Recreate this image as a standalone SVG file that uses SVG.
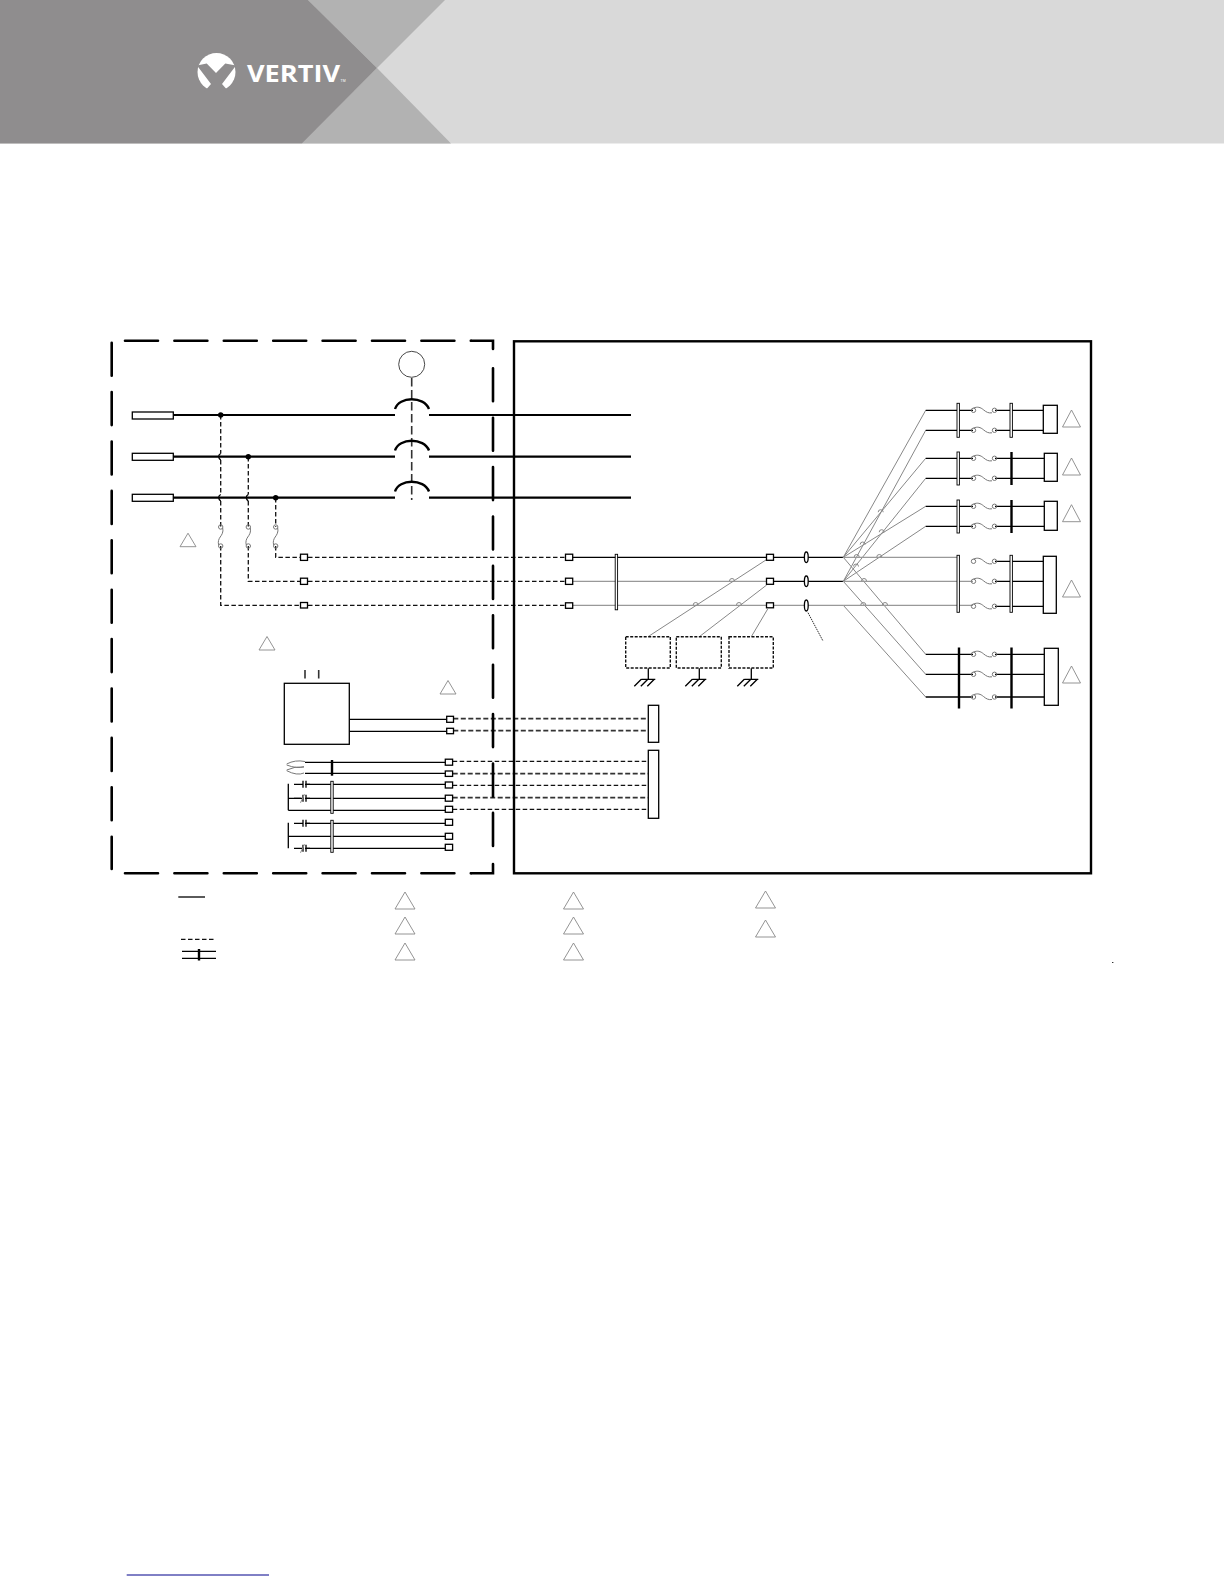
<svg xmlns="http://www.w3.org/2000/svg" width="1224" height="1584" viewBox="0 0 1224 1584">
<style>
.bg{fill:#fff}
.main{fill:none;stroke:#000;stroke-width:2.2}
.sol{fill:none;stroke:#000;stroke-width:1.3}
.gr{fill:none;stroke:#999;stroke-width:1.2}
.dg{fill:none;stroke:#888;stroke-width:1}
.ds{fill:none;stroke:#111;stroke-width:1.3;stroke-dasharray:4.5 2.5}
.dst{fill:none;stroke:#333;stroke-width:1.8;stroke-dasharray:5 2.5}
.dl{fill:none;stroke:#333;stroke-width:1.6;stroke-dasharray:8.5 3.5}
.bd{fill:none;stroke:#000;stroke-width:2.6;stroke-dasharray:33 16.4;stroke-linecap:round}
.box{fill:#fff;stroke:#000;stroke-width:1.3}
.bar{fill:#fff;stroke:#000;stroke-width:.9}
.thick{fill:none;stroke:#000;stroke-width:2.4}
.tri{fill:none;stroke:#888;stroke-width:.9}
.db{fill:none;stroke:#111;stroke-width:1.4;stroke-dasharray:3 1.5}
.dot{fill:none;stroke:#333;stroke-width:1;stroke-dasharray:1.5 .8}
.fz{fill:none;stroke:#777;stroke-width:1}
</style>
<defs>
<g id="fh"><circle class="fz" cx="0" cy="0" r="2.2"/><circle class="fz" cx="21" cy="0" r="2.2"/><path class="fz" d="M0,-2.2C4,-4 7,-3 10,-.5S15,3 18.5,2.5"/></g>
<g id="fv"><circle class="fz" cx="0" cy="0" r="2.2"/><circle class="fz" cx="0" cy="19" r="2.2"/><path class="fz" d="M2,1C3,5 1,8 -.5,10S-3,15 -2,18"/></g>
<path id="t" class="tri" d="M0,0L9,-17L18,0Z"/>
<path id="tl" class="tri" d="M0,0L10,-17L20,0Z"/>
<path id="ts" class="tri" d="M0,0L8,-13.5L16,0Z"/>
<g id="gnd"><path class="sol" d="M0,-11V0M-7,0H7M-14,7L-7,0M-7.5,7L-.5,0M-1,7L6,0"/></g>
<path id="c" class="sol" d="M0,0H9M9,-3.5V3.5M12,-3.5V3.5M12,0H16"/>
<path id="cs" class="sol" d="M0,0H9M9,-3.5V3.5M12,-3.5V3.5M12,0H16"/>
<path id="cslash" class="dg" d="M6.5,4.5L10.5,-4"/>
<path id="j" class="dg" d="M-2.5,.5A2.5,2.5 0 0 1 2.5,.5"/>
</defs>
<rect class="bg" x="0" y="0" width="1224" height="1584"/>
<g id="header">
<rect x="0" y="0" width="1224" height="143.5" fill="#d9d9d9"/>
<path d="M308,0H445L377,68Z" fill="#b2b2b2"/>
<path d="M302,143.5H451L377,68Z" fill="#b2b2b2"/>
<path d="M0,0H308L377,68L302,143.5H0Z" fill="#8f8d8e"/>
<g id="logo">
<circle cx="216.5" cy="72" r="19" fill="#fff"/>
<path d="M197,65.5L206.7,63.5L216,73L225.3,63.5L236,65.5L222,84L229,92H204L211,84Z" fill="#8f8d8e"/>
<text x="247" y="82" font-family="'Open Sans','Liberation Sans',sans-serif" font-weight="700" font-size="24" fill="#fff" textLength="93" lengthAdjust="spacingAndGlyphs">VERTIV</text>
<text x="340.5" y="82" font-family="'Liberation Sans',sans-serif" font-size="3.5" fill="#fff">TM</text>
</g>
</g>
<g id="connectors">
<g id="panel-left-wiring">
<path class="main" d="M173,415H395M173,456.7H395M173,497.7H395M429,415H631M429,456.7H631M429,497.7H631"/>
<path class="dl" d="M411.7,378V500"/>
<path class="ds" d="M220.7,415V453.5M220.7,460V494.5M220.7,501V526.7M220.7,546V605.3H300M248.3,457V494.5M248.3,501V526.7M248.3,546V581.3H300M275.7,498V526.7M275.7,546V557.3H300"/>
<path class="sol" d="M220.7,453.5C218,455 218,458 220.7,460M220.7,494.5C218,496 218,499 220.7,501M248.3,494.5C245.6,496 245.6,499 248.3,501"/>
<path class="ds" d="M308,557.3H565M308,581.3H565M308,605.3H565"/>
<path class="sol" d="M349.3,719.3H446.7M349.3,731.3H446.7"/>
<path class="dst" d="M453.3,718.7H649M453.3,730.7H649"/>
<path class="ds" d="M452.7,761.3H649M452.7,785.3H649M452.7,809.3H649"/>
<path class="dst" d="M452.7,773.7H649M452.7,797.7H649"/>
<path class="sol" d="M305,762.3H445.3M305,773.3H445.3M305,784.3H445.3M305,798.3H445.3M288.3,810.3H445.3M305,823.3H445.3M288.3,836.3H445.3M305,848.3H445.3"/>
<path class="sol" d="M288.3,783.7V810.3M288.3,798.3H301M288.3,822.7V848.3"/>
<path class="dl" d="M305,670V682M318.7,670V682"/>
<path class="fz" d="M286.7,764Q295,759.5 305,761.5M286.7,765Q297,769 304,766.7M286.7,770Q295,766 304,767M286.7,770.7Q297,776 304,773"/>
</g>
<g id="panel-right-wiring">
<path class="sol" d="M572.7,557.3H766M774,557.3H843.3M774,581.3H843.3"/>
<path class="gr" d="M572.7,581.3H766M572.7,605.3H766M774,605.3H843.3"/>
<path class="dg" d="M648,636.7L766.7,559.5M699.3,636.7L766.7,585M751.3,636.7L767.7,609"/>
<use href="#j" x="732" y="580.5"/><use href="#j" x="695.7" y="604.5"/><use href="#j" x="739" y="604.5"/>
<path class="dot" d="M808,612.7L823,641"/>
<path class="dg" d="M843.3,557.3L925.7,410.3M843.3,581.3L925.7,430.3M843.3,557.3L925.7,458.3M843.3,581.3L925.7,478.3M843.3,557.3L925.7,506.3M843.3,581.3L925.7,526.3M843.3,557.3L925.7,654.3M843.3,581.3L925.7,674.3M843.3,605.3L925.7,697"/>
<path class="gr" d="M843.3,557.3H959M843.3,581.3H973M843.3,605.3H973"/>
<use href="#j" x="880.7" y="511.7"/><use href="#j" x="881.7" y="531.7"/><use href="#j" x="862.7" y="544"/><use href="#j" x="856.7" y="556.5"/><use href="#j" x="879.3" y="556.5"/><use href="#j" x="856" y="566"/><use href="#j" x="864" y="580.5"/><use href="#j" x="863.3" y="604.5"/><use href="#j" x="885" y="604.5"/>
<path class="sol" d="M925.7,410.3H973M925.7,430.3H973M925.7,458.3H973M925.7,478.3H973M925.7,506.3H973M925.7,526.3H973M925.7,654.3H973M925.7,674.3H973M925.7,697H973"/>
<path class="sol" d="M995,410.3H1043.3M995,430.3H1043.3M995,458.3H1044.3M995,478.3H1044.3M995,506.3H1044.3M995,526.3H1044.3M995,561.3H1043.3M995,581.3H1043.3M995,606.3H1043.3M995,654.3H1044.3M995,674.3H1044.3M995,697H1044.3"/>
</g>
</g>
<g id="outer-boxes">
<path id="dashed-top" class="bd" d="M125,340.7H471"/>
<path class="bd" style="stroke-dasharray:none" d="M471.5,340.7H493V349"/>
<path id="dashed-left" class="bd" d="M111.7,342.7V869"/>
<path id="dashed-bottom" class="bd" d="M125,873.3H471"/>
<path class="bd" style="stroke-dasharray:none" d="M471.5,873.3H493V864"/>
<path id="dashed-right" class="bd" d="M493,368.3V846"/>
<rect id="right-panel" x="514" y="341.3" width="577" height="532" fill="none" stroke="#000" stroke-width="2.4"/>
</g>
<g id="breakers">
<circle cx="411.7" cy="364.3" r="13" fill="none" stroke="#333" stroke-width=".9"/>
<path class="thick" d="M395,409C399,396 424,396 429,409M395,450.5C399,437.5 424,437.5 429,450.5M395,491.5C399,478.5 424,478.5 429,491.5"/>
</g>
<g id="terminals">
<rect class="box" x="132.3" y="412" width="41" height="7"/>
<rect class="box" x="132.3" y="453.3" width="41" height="7"/>
<rect class="box" x="132.3" y="494.3" width="41" height="7"/>
<circle cx="220.7" cy="415" r="2.7"/><circle cx="248.3" cy="456.7" r="2.7"/><circle cx="275.7" cy="497.7" r="2.7"/>
</g>
<g id="fuses-left">
<use href="#fv" x="220.7" y="527"/><use href="#fv" x="248.3" y="527"/><use href="#fv" x="275.7" y="527"/>
</g>
<g id="term-strip-1">
<rect class="box" x="300.5" y="554.2" width="7" height="6.2"/><rect class="box" x="300.5" y="578.2" width="7" height="6.2"/><rect class="box" x="300.5" y="602.5" width="7" height="5.5"/>
</g>
<g id="term-strip-2">
<rect class="box" x="565.5" y="554.2" width="7.2" height="6.2"/><rect class="box" x="565.5" y="578.2" width="7.2" height="6.2"/><rect class="box" x="565.5" y="602.8" width="7.2" height="5.5"/>
<rect class="bar" x="615.2" y="554.3" width="2.4" height="55.5"/>
</g>
<g id="term-strip-3">
<rect class="box" x="766.5" y="554.3" width="7" height="6"/><rect class="box" x="766.5" y="578.3" width="7" height="6"/><rect class="box" x="766.5" y="602.8" width="7" height="5"/>
<ellipse cx="806.3" cy="557.3" rx="1.9" ry="5.3" class="box"/><ellipse cx="806.3" cy="581.3" rx="1.9" ry="5.3" class="box"/><ellipse cx="806.3" cy="605.5" rx="1.9" ry="5.5" class="box"/>
</g>
<g id="surge-1"><rect class="db" x="625.7" y="636.7" width="44.6" height="31.3"/><use href="#gnd" x="648.3" y="679.3"/></g>
<g id="surge-2"><rect class="db" x="676.3" y="636.7" width="45" height="31.3"/><use href="#gnd" x="699.3" y="679.3"/></g>
<g id="surge-3"><rect class="db" x="729" y="636.7" width="44.3" height="31.3"/><use href="#gnd" x="751.3" y="679.3"/></g>
<g id="feeder-1">
<rect class="bar" x="957" y="403.3" width="2.4" height="34"/><rect class="bar" x="1010" y="403.3" width="2.4" height="34"/>
<use href="#fh" x="973.5" y="410.3"/><use href="#fh" x="973.5" y="430.3"/>
<rect class="box" x="1043.3" y="405.3" width="14" height="28"/><use href="#t" x="1062.5" y="427"/>
</g>
<g id="feeder-2">
<rect class="bar" x="957" y="452" width="2.4" height="33"/><path class="thick" d="M1011.5,452V485"/>
<use href="#fh" x="973.5" y="458.3"/><use href="#fh" x="973.5" y="478.3"/>
<rect class="box" x="1044.3" y="453.3" width="13" height="28"/><use href="#t" x="1062.5" y="475"/>
</g>
<g id="feeder-3">
<rect class="bar" x="957" y="500" width="2.4" height="33"/><path class="thick" d="M1011.5,500V533"/>
<use href="#fh" x="973.5" y="506.3"/><use href="#fh" x="973.5" y="526.3"/>
<rect class="box" x="1044.3" y="501.3" width="13" height="29"/><use href="#t" x="1062.5" y="521.7"/>
</g>
<g id="feeder-4">
<rect class="bar" x="957" y="555.3" width="2.4" height="57"/><rect class="bar" x="1010" y="555.3" width="2.4" height="57"/>
<use href="#fh" x="973.5" y="561.3"/><use href="#fh" x="973.5" y="581.3"/><use href="#fh" x="973.5" y="606.3"/>
<rect class="box" x="1043.3" y="556.3" width="13" height="57"/><use href="#t" x="1062.5" y="597"/>
</g>
<g id="feeder-5">
<path class="thick" d="M959,647.5V708.5M1011.5,647.5V708.5"/>
<use href="#fh" x="973.5" y="654.3"/><use href="#fh" x="973.5" y="674.3"/><use href="#fh" x="973.5" y="697"/>
<rect class="box" x="1044.3" y="648.3" width="14" height="57"/><use href="#t" x="1062.5" y="683"/>
</g>
<g id="control-box">
<rect class="box" x="284.3" y="683.3" width="65" height="61"/>
<rect class="box" x="446.7" y="716.3" width="6.8" height="6"/><rect class="box" x="446.7" y="728.3" width="6.8" height="5.4"/>
</g>
<g id="alarm-contacts">
<path class="thick" d="M332,760V775.7"/>
<rect class="bar" x="330.8" y="781.3" width="2.4" height="32"/><rect class="bar" x="330.8" y="820.3" width="2.4" height="32"/>
<use href="#c" x="294" y="784.3"/><use href="#cs" x="294" y="798.3"/><use href="#cslash" x="294" y="798.3"/><use href="#c" x="294" y="823.3"/><use href="#cs" x="294" y="848.3"/><use href="#cslash" x="294" y="848.3"/>
<rect class="box" x="445.3" y="759.2" width="7.3" height="6"/><rect class="box" x="445.3" y="771" width="7.3" height="5.4"/><rect class="box" x="445.3" y="782" width="7.3" height="6"/><rect class="box" x="445.3" y="795.2" width="7.3" height="6"/><rect class="box" x="445.3" y="806.3" width="7.3" height="6"/><rect class="box" x="445.3" y="819.3" width="7.3" height="6"/><rect class="box" x="445.3" y="833.3" width="7.3" height="6"/><rect class="box" x="445.3" y="844.3" width="7.3" height="6"/>
</g>
<g id="remote-blocks">
<rect class="box" x="648.3" y="705.3" width="10.4" height="37"/>
<rect class="box" x="648.3" y="750.3" width="10.4" height="68"/>
</g>
<g id="notes-triangles">
<use href="#ts" x="180" y="546.7"/><use href="#ts" x="259" y="650"/><use href="#ts" x="440" y="694"/>
<use href="#tl" x="395" y="909"/><use href="#tl" x="395" y="934"/><use href="#tl" x="395" y="960"/>
<use href="#tl" x="563.5" y="909"/><use href="#tl" x="563.5" y="934"/><use href="#tl" x="563.5" y="960"/>
<use href="#tl" x="755.5" y="908"/><use href="#tl" x="755.5" y="937"/>
</g>
<g id="legend">
<path class="sol" d="M178.3,897H205"/>
<path class="ds" d="M181,939.3H214"/>
<path class="sol" d="M182,951.3H216M182,958.3H216"/>
<path class="thick" d="M199,949V960.5"/>
<rect x="1112" y="962" width="1.4" height="1" fill="#333"/>
</g>
<path id="footer-link" d="M126.7,1575H269" stroke="#00008b" stroke-width="1" fill="none"/>
</svg>
